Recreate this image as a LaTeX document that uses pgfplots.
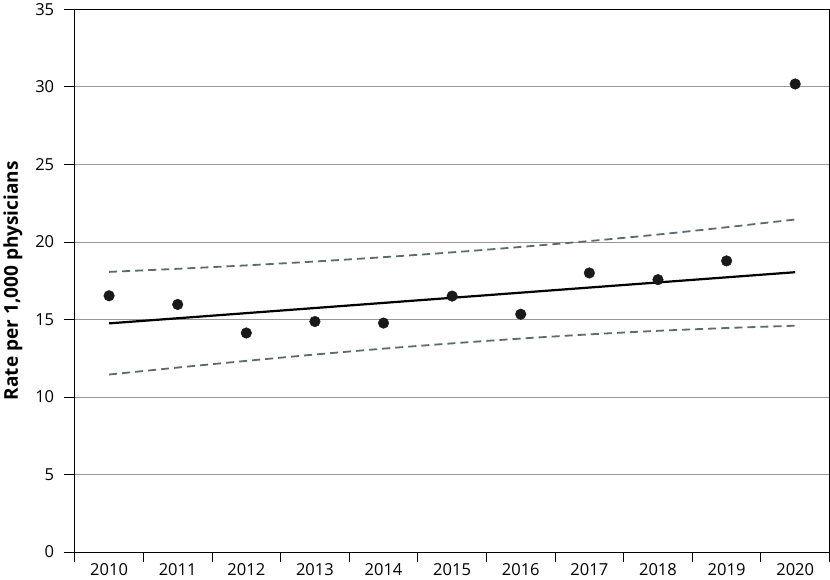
\documentclass[border=0pt]{standalone}
\usepackage{fontspec}
\setmainfont{Open Sans}
\usepackage{pgfplots}
\pgfplotsset{compat=1.18}
\definecolor{cigray}{HTML}{5C6B70}

\begin{document}
\begin{tikzpicture}[x=1bp,y=1bp]
\begin{axis}[
  scale only axis,
  width=751bp, height=540bp,
  xmin=-0.5, xmax=10.5,
  ymin=0, ymax=35,
  ytick={0,5,...,35},
  xtick={0,...,10},
  xticklabels={2010,2011,2012,2013,2014,2015,2016,2017,2018,2019,2020},
  minor xtick={-0.5,0.5,...,10.5},
  major x tick style={draw=none},
  minor tick length=10bp,
  major tick length=11bp,
  tick align=outside,
  tick pos=left,
  tick style={black, line width=0.9bp},
  ymajorgrids,
  grid style={gray!80, line width=0.9bp},
  axis line style={black, line width=1bp},
  tick label style={font=\fontsize{16.5}{19}\selectfont},
  yticklabel style={xshift=-6bp},
  xticklabel style={yshift=3bp},
  /pgf/number format/assume math mode=true,
  ylabel={\bfseries Rate per 1,000 physicians},
  ylabel style={font=\fontsize{19}{22}\selectfont, yshift=6bp},
  clip=false,
]
\addplot[cigray, line width=1.8bp, dash pattern=on 8bp off 5bp, smooth] coordinates {
  (0,18.07) (1,18.27) (2,18.49) (3,18.74) (4,19.02) (5,19.33)
  (6,19.68) (7,20.06) (8,20.48) (9,20.95) (10,21.45)
};
\addplot[cigray, line width=1.8bp, dash pattern=on 8bp off 5bp, smooth] coordinates {
  (0,11.45) (1,11.90) (2,12.33) (3,12.74) (4,13.12) (5,13.46)
  (6,13.77) (7,14.04) (8,14.27) (9,14.45) (10,14.60)
};
\addplot[black, line width=2.2bp] coordinates {
  (0,14.75) (10,18.05)
};
\addplot[only marks, mark=*, mark size=5.3bp, mark options={fill=black!90, draw=black!90}] coordinates {
  (0,16.53) (1,15.97) (2,14.13) (3,14.87) (4,14.77) (5,16.51)
  (6,15.34) (7,18.00) (8,17.57) (9,18.78) (10,30.19)
};
\end{axis}
\end{tikzpicture}
\end{document}
